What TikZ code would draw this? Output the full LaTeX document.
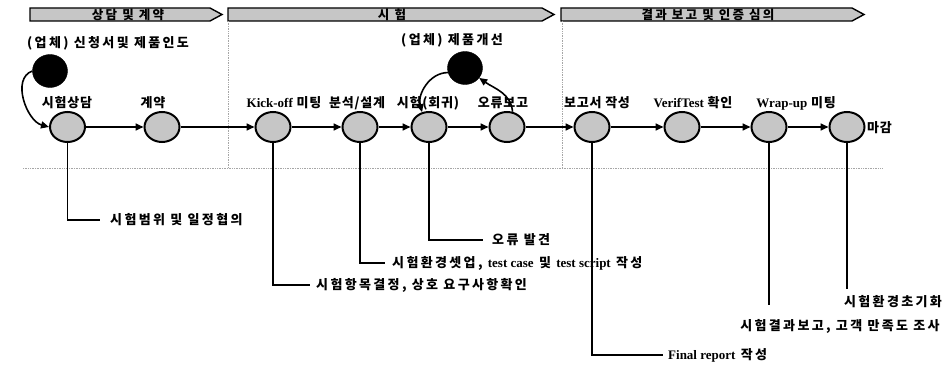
\documentclass[tikz,border=0pt]{standalone}
\usepackage{fontspec}
\setmainfont{Liberation Serif}
\newfontfamily\krfont{Noto Sans CJK KR}[LetterSpace=18]
\newfontfamily\krlbl{Noto Sans CJK KR}[LetterSpace=6]
\usetikzlibrary{arrows.meta,shapes.geometric}
\newcommand\lat[1]{{\rmfamily\bfseries #1}}
\tikzset{
  txt/.style={font=\fontsize{13}{15}\selectfont\krfont\bfseries, inner sep=0pt},
  lbl/.style={font=\fontsize{13}{15}\selectfont\krlbl\bfseries, inner sep=0pt},
  hdrtxt/.style={font=\fontsize{12.5}{13}\selectfont\krfont\bfseries, inner sep=0pt},
  hdr/.style={draw=black, line width=1.4pt, fill=gray!45},
  proc/.style={ellipse, draw=black, line width=2pt, fill=gray!45, minimum width=35pt, minimum height=30pt, inner sep=0pt},
  blk/.style={ellipse, fill=black, draw=black, minimum width=35pt, minimum height=33pt, inner sep=0pt},
  arr/.style={line width=1.6pt, -{Triangle[length=8pt,width=7pt]}},
  con/.style={line width=1.5pt},
  sep/.style={densely dotted, line width=0.7pt, gray!70}
}
\begin{document}
\begin{tikzpicture}[x=1pt,y=-1pt]
\useasboundingbox (0,0) rectangle (946,371);
% header arrows
\draw[hdr] (30,8) -- (210,8) -- (222,14.5) -- (210,21) -- (30,21) -- cycle;
\draw[hdr] (228,8) -- (542,8) -- (554,14.5) -- (542,21) -- (228,21) -- cycle;
\draw[hdr] (561,8) -- (852,8) -- (864,14.5) -- (852,21) -- (561,21) -- cycle;
\node[hdrtxt] (h1) at (128,14.5) {상담 및 계약};
\node[hdrtxt] (h2) at (392,14.5) {시 험};
\node[hdrtxt] (h3) at (708,14.5) {결과 보고 및 인증 심의};
% separators
\draw[sep] (228,21) -- (228,168);
\draw[sep] (562,21) -- (562,168);
\draw[sep] (23,168) -- (882,168);
% process nodes
\node[proc] (n1) at (67.5,127) {};
\node[proc] (n2) at (162,127) {};
\node[proc] (n3) at (273,127) {};
\node[proc] (n4) at (360,127) {};
\node[proc] (n5) at (429,127) {};
\node[proc] (n6) at (507,127) {};
\node[proc] (n7) at (592,127) {};
\node[proc] (n8) at (682,127) {};
\node[proc] (n9) at (769,127) {};
\node[proc] (n10) at (847,127) {};
\node[blk] (b1) at (50,71) {};
\node[blk] (b2) at (465,68) {};
% labels above
\node[txt, anchor=west] (c1) at (27,43) {(업체) 신청서및 제품인도};
\node[txt] (c2) at (452,40) {(업체) 제품개선};
\node[lbl] (l1) at (67,103) {시험상담};
\node[lbl] (l2) at (153,103) {계약};
\node[lbl] (l3) at (284,103) {\lat{Kick-off} 미팅};
\node[lbl] (l4) at (357,103) {분석/설계};
\node[lbl] (l5) at (428,103) {시험(회귀)};
\node[lbl] (l6) at (503,103) {오류보고};
\node[lbl] (l7) at (597,103) {보고서 작성};
\node[lbl] (l8) at (693,103) {\lat{VerifTest} 확인};
\node[lbl] (l9) at (796,103) {\lat{Wrap-up} 미팅};
\node[lbl, anchor=west] (l10) at (867,128) {마감};
% main flow
\draw[arr] (n1) -- (n2);
\draw[arr] (n2) -- (n3);
\draw[arr] (n3) -- (n4);
\draw[arr] (n4) -- (n5);
\draw[arr] (n5) -- (n6);
\draw[arr] (n6) -- (n7);
\draw[arr] (n7) -- (n8);
\draw[arr] (n8) -- (n9);
\draw[arr] (n9) -- (n10);
% loops
\draw[arr] (b1.west) to[out=200,in=165] (n1.west);
\draw[arr] (n6.70) to[out=95,in=-35] (b2.-35);
\draw[arr] (b2.195) to[out=180,in=105] (n5.115);
% bottom notes
\node[txt, anchor=west] (t1) at (110,220) {시험범위 및 일정협의};
\node[txt, anchor=west] (t3) at (316,285) {시험항목결정, 상호 요구사항확인};
\node[txt, anchor=west] (t4) at (392,263) {시험환경셋업, \lat{test case} 및 \lat{test script} 작성};
\node[txt, anchor=west] (t5) at (492,240) {오류 발견};
\node[txt, anchor=west] (t7) at (668,355) {\lat{Final report} 작성};
\node[txt] (t9) at (840,326) {시험결과보고, 고객 만족도 조사};
\node[txt] (t10) at (893,302) {시험환경초기화};
\coordinate (e9) at (769,305);
\coordinate (e10) at (847,289);
\draw[con] (n1.south) |- ([xshift=-10pt]t1.west);
\draw[con] (n3.south) |- ([xshift=-6pt]t3.west);
\draw[con] (n4.south) |- ([xshift=-7pt]t4.west);
\draw[con] (n5.south) |- ([xshift=-9pt]t5.west);
\draw[con] (n7.south) |- ([xshift=-5pt]t7.west);
\draw[con] (n9.south) -- (e9);
\draw[con] (n10.south) -- (e10);
\end{tikzpicture}
\end{document}
